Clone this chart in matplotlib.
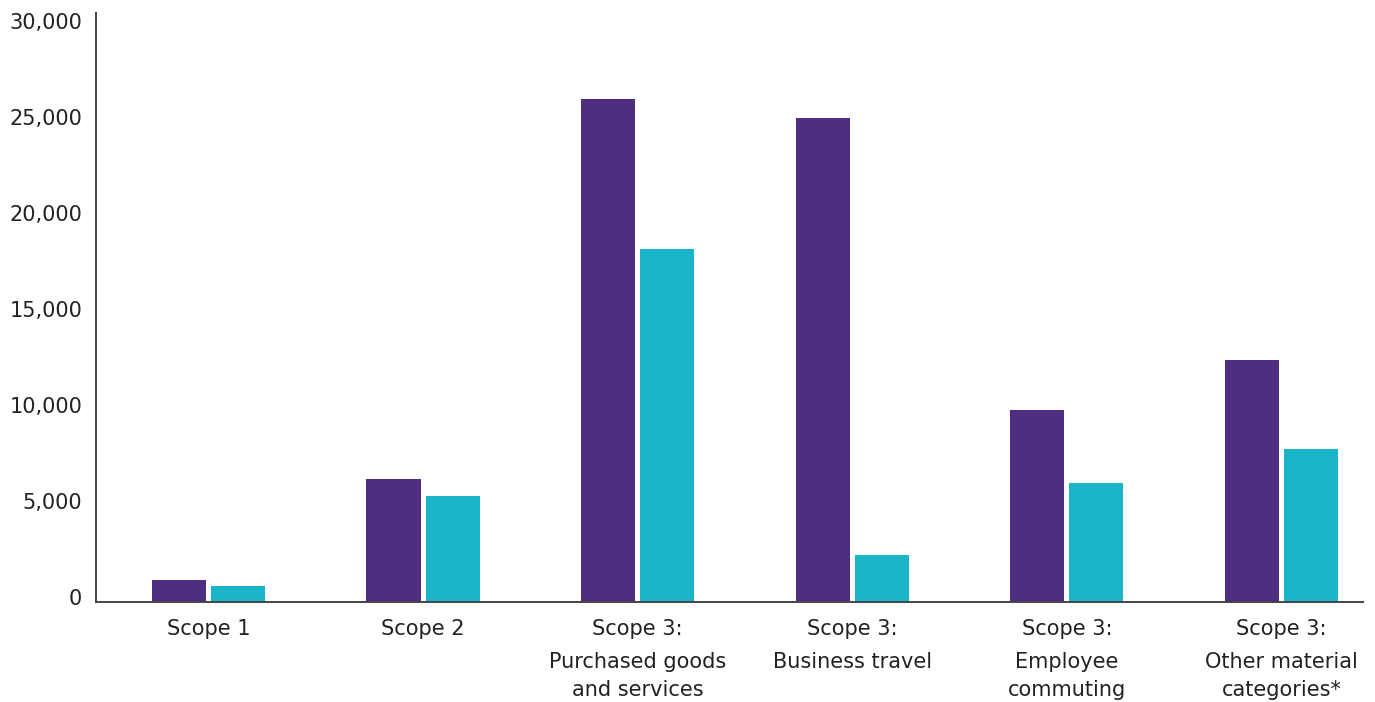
import numpy as np
import matplotlib
matplotlib.use("Agg")
import matplotlib.pyplot as plt
import matplotlib.transforms as mtransforms

# emissions by scope (tCO2e), two reporting years
scopes = ["Scope 1", "Scope 2", "Scope 3:", "Scope 3:", "Scope 3:", "Scope 3:"]
subcats = ["", "", "Purchased goods\nand services", "Business travel",
           "Employee\ncommuting", "Other material\ncategories*"]
baseline = [1150, 6400, 26200, 25200, 10000, 12600]
current = [830, 5520, 18400, 2450, 6200, 7970]
yticks = [0, 5000, 10000, 15000, 20000, 25000, 30000]

purple = "#4F2D7F"
teal = "#1AB5C8"
ink = "#222222"

plt.rcParams['font.family'] = ['DejaVu Sans']

fig = plt.figure(figsize=(13.75, 7.02), dpi=100)
ax = fig.add_axes([0.0698, 0.1425, 0.9215, 0.839])

x = np.arange(len(scopes))
w = 0.252
off = 0.1375
ax.bar(x - off, baseline, w, color=purple)
ax.bar(x + off, current, w, color=teal)

ax.set_xlim(-0.524, 5.38)
ax.set_ylim(0, 30680)
ax.set_yticks(yticks)
ax.set_yticklabels(["{:,}".format(v) for v in yticks])
ax.set_xticks(x)
ax.set_xticklabels(scopes)

ax.tick_params(axis="both", length=0, labelsize=15, colors=ink)
ax.tick_params(axis="y", pad=10)
ax.tick_params(axis="x", pad=12)

# nudge y labels up a little
shift = mtransforms.ScaledTranslation(0, 5 / 100, fig.dpi_scale_trans)
for lbl in ax.get_yticklabels():
    lbl.set_transform(lbl.get_transform() + shift)

# second part of the category names, set a bit lower than the scope line
sub_tr = ax.get_xaxis_transform() + mtransforms.ScaledTranslation(0, -50 / 100, fig.dpi_scale_trans)
for xi, txt in zip(x, subcats):
    if txt:
        ax.text(xi, 0, txt, transform=sub_tr, ha="center", va="top",
                fontsize=15, color=ink, linespacing=1.5)

for s in ["top", "right"]:
    ax.spines[s].set_visible(False)
for s in ["left", "bottom"]:
    ax.spines[s].set_color("#444444")
    ax.spines[s].set_linewidth(1.4)

fig.savefig("out.png", dpi=100)
